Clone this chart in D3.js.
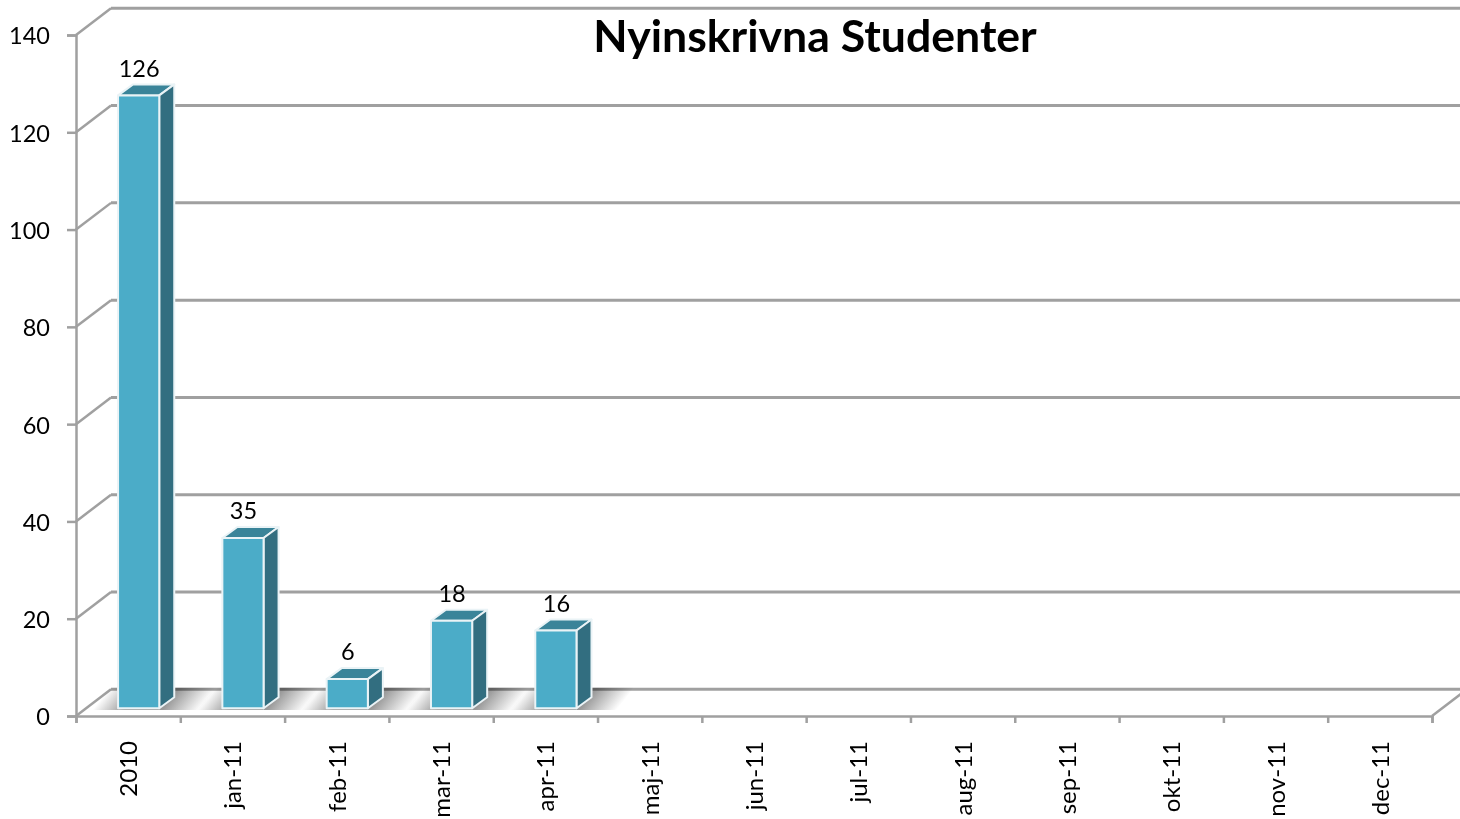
<!DOCTYPE html>
<html>
<head>
<meta charset="utf-8">
<script src="https://cdn.jsdelivr.net/npm/d3@7"></script>
<style>
  html, body { margin: 0; padding: 0; background: #fff; overflow: hidden; }
  text { font-family: Lato, "Noto Sans", sans-serif; fill: #000; }
</style>
</head>
<body>
<div id="chart"></div>
<script>
const categories = ['2010', 'jan-11', 'feb-11', 'mar-11', 'apr-11', 'maj-11', 'jun-11',
    'jul-11', 'aug-11', 'sep-11', 'okt-11', 'nov-11', 'dec-11'];
const studentValues = [126, 35, 6, 18, 16, null, null, null, null, null, null, null, null];
const yTicks = [0, 20, 40, 60, 80, 100, 120, 140];
const chartTitle = 'Nyinskrivna Studenter';

const width = 1460, height = 819;
const gridColor = '#a0a0a0';

// plot box of the front plane, the back wall is shifted by depth
const plotLeft = 76, plotRight = 1432, plotTop = 35, plotBottom = 716;
const wallX = 35, wallY = -26.7;
const barDx = 10.5, barDy = -7.7;
const sideX = 15, sideY = -11;

const svg = d3.select('#chart').append('svg')
    .attr('width', width)
    .attr('height', height);

const x = d3.scaleBand().domain(categories).range([plotLeft, plotRight]).paddingInner(0).paddingOuter(0);
const y = d3.scaleLinear().domain([0, 140]).range([plotBottom, plotTop]);

const barWidth = x.bandwidth() * 0.395;
const barLeft = d => x(d) + (x.bandwidth() - barWidth) / 2 + barDx;

const barData = categories.map((c, i) => ({ c, v: studentValues[i] })).filter(d => d.v !== null);

// back wall gridlines
svg.append('g').selectAll('line')
    .data(yTicks)
    .enter().append('line')
    .attr('x1', plotLeft + wallX)
    .attr('x2', width)
    .attr('y1', d => y(d) + wallY)
    .attr('y2', d => y(d) + wallY)
    .attr('stroke', gridColor)
    .attr('stroke-width', 3);

// side wall gridlines
svg.append('g').selectAll('line')
    .data(yTicks)
    .enter().append('line')
    .attr('x1', plotLeft)
    .attr('x2', plotLeft + wallX)
    .attr('y1', d => y(d))
    .attr('y2', d => y(d) + wallY)
    .attr('stroke', gridColor)
    .attr('stroke-width', 2.5);

// right edge of the floor
svg.append('line')
    .attr('x1', plotRight).attr('x2', plotRight + wallX)
    .attr('y1', plotBottom).attr('y2', plotBottom + wallY)
    .attr('stroke', gridColor)
    .attr('stroke-width', 2.5);

// shadows on the floor, one slanted gradient per bar
const shadowLeft = 25, shadowRight = 82, shadowSlant = 16;
const defs = svg.append('defs');
barData.forEach((d, i) => {
    const x0 = barLeft(d.c) - shadowLeft, w = shadowLeft + shadowRight;
    const g = defs.append('linearGradient')
        .attr('id', 'floor-shadow-' + i)
        .attr('gradientUnits', 'userSpaceOnUse')
        .attr('x1', x0).attr('y1', 709)
        .attr('x2', x0 + w * 0.6).attr('y2', 709 + w * 0.49);
    g.append('stop').attr('offset', '0%').attr('stop-color', '#ffffff');
    g.append('stop').attr('offset', '30%').attr('stop-color', '#9a9a9a');
    g.append('stop').attr('offset', '65%').attr('stop-color', '#9a9a9a');
    g.append('stop').attr('offset', '100%').attr('stop-color', '#ffffff');
});

svg.append('g').selectAll('path')
    .data(barData)
    .enter().append('path')
    .attr('d', d => {
        const x0 = barLeft(d.c) - shadowLeft, x1 = barLeft(d.c) + shadowRight;
        const y0 = y(0) + wallY - 1.5, y1 = 710;
        return `M${x0 + shadowSlant},${y0}L${x1 + shadowSlant},${y0}L${x1},${y1}L${x0},${y1}Z`;
    })
    .attr('fill', (d, i) => `url(#floor-shadow-${i})`)
    .style('mix-blend-mode', 'multiply');

// y axis
const yAxis = d3.axisLeft(y).tickValues(yTicks).tickSize(9).tickPadding(17);
const yG = svg.append('g').attr('transform', `translate(${plotLeft},0)`).call(yAxis);
yG.selectAll('path, line').attr('stroke', gridColor).attr('stroke-width', 2.5);
yG.selectAll('text').attr('font-size', 23.5).attr('dy', '0.38em').style('font-family', 'Lato');

// x axis
const xAxis = d3.axisBottom(d3.scaleLinear().domain([0, 13]).range([plotLeft, plotRight]))
    .tickValues(d3.range(0, 14)).tickSize(7).tickFormat('');
const xG = svg.append('g').attr('transform', `translate(0,${plotBottom})`).call(xAxis);
xG.selectAll('path, line').attr('stroke', gridColor).attr('stroke-width', 2.5);

svg.append('g').selectAll('text')
    .data(categories)
    .enter().append('text')
    .attr('transform', d => `translate(${x(d) + x.bandwidth() / 2 + 9},741) rotate(-90)`)
    .attr('text-anchor', 'end')
    .attr('font-size', 24)
    .text(d => d);

// bars: top, side, then front
const bars = svg.append('g').selectAll('g')
    .data(barData)
    .enter().append('g');

const edge = s => s.attr('stroke', '#eaf3f6').attr('stroke-width', 2).attr('stroke-linejoin', 'round');

bars.append('path')
    .attr('d', d => {
        const a = barLeft(d.c), t = y(d.v) + barDy;
        return `M${a},${t}L${a + sideX},${t + sideY}L${a + barWidth + sideX},${t + sideY}L${a + barWidth},${t}Z`;
    })
    .attr('fill', '#3a8499')
    .call(edge);

bars.append('path')
    .attr('d', d => {
        const a = barLeft(d.c) + barWidth, t = y(d.v) + barDy, b = y(0) + barDy;
        return `M${a},${t}L${a + sideX},${t + sideY}L${a + sideX},${b + sideY}L${a},${b}Z`;
    })
    .attr('fill', '#326e80')
    .call(edge);

bars.append('rect')
    .attr('x', d => barLeft(d.c))
    .attr('y', d => y(d.v) + barDy)
    .attr('width', barWidth)
    .attr('height', d => y(0) - y(d.v))
    .attr('fill', '#4bacc8')
    .call(edge);

// value labels
bars.append('text')
    .attr('x', d => barLeft(d.c) + barWidth / 2 + 0.5)
    .attr('y', d => y(d.v) + barDy - 18.8)
    .attr('text-anchor', 'middle')
    .attr('font-size', 23.5)
    .text(d => d.v);

svg.append('text')
    .attr('x', 815)
    .attr('y', 52)
    .attr('text-anchor', 'middle')
    .attr('font-size', 44.6)
    .attr('font-weight', 700)
    .text(chartTitle);
</script>
</body>
</html>
